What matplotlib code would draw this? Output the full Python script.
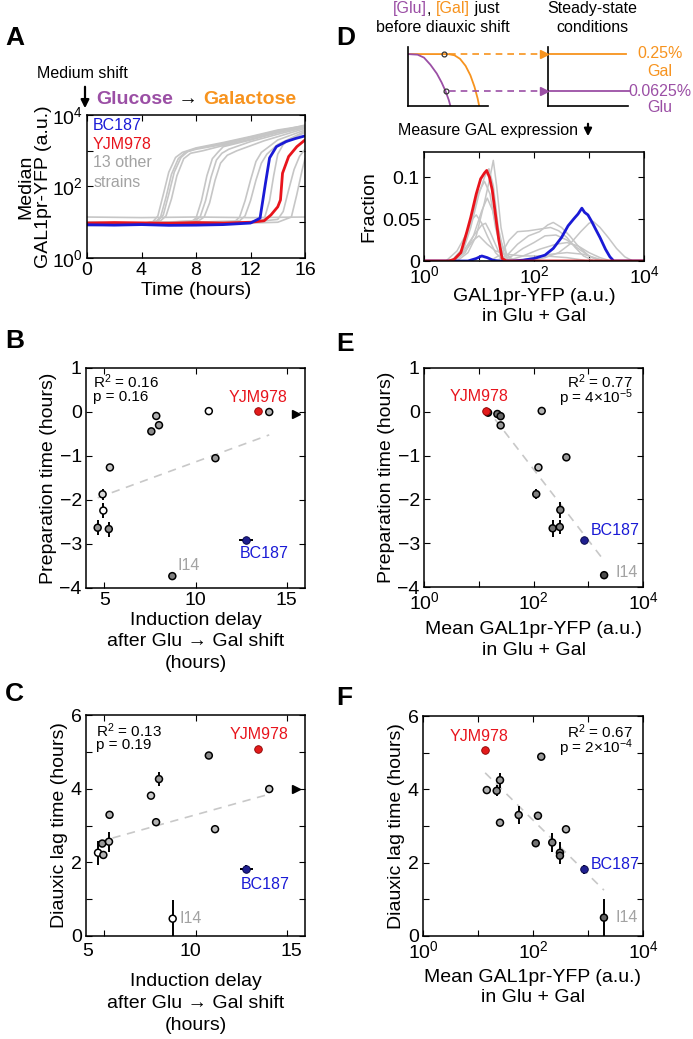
import numpy as np
import matplotlib
matplotlib.use('Agg')
import matplotlib.pyplot as plt
from matplotlib.ticker import NullLocator

plt.rcParams['font.family'] = ['Liberation Sans', 'DejaVu Sans']
plt.rcParams['mathtext.fontset'] = 'custom'
plt.rcParams['mathtext.rm'] = 'Liberation Sans'
plt.rcParams['mathtext.it'] = 'Liberation Sans:italic'
plt.rcParams['mathtext.bf'] = 'Liberation Sans:bold'

W, H = 693, 1039
PURPLE = '#9b4fa5'
ORANGE = '#f7931e'
BLUE = '#1a1ad6'
RED = '#e8141c'
GREY = '#c6c6c6'
LABEL_GREY = '#a3a3a3'
DOT_BLUE = '#1f1f8f'
DOT_RED = '#e21b1b'

# ---- panel A: median GAL1pr-YFP vs time after glucose -> galactose shift
bc187_t = [0, 2, 4, 6, 8, 10, 12, 12.7, 12.9, 13.1, 13.4, 13.9, 14.6, 15.3, 16]
bc187_y = [8.5, 8.3, 8.6, 8.2, 8.3, 8.6, 9.5, 13, 40, 124, 630, 1300, 1800, 2200, 2600]
yjm978_t = [0, 2, 4, 6, 8, 10, 12, 13, 13.5, 14.0, 14.2, 14.35, 14.8, 15.4, 16]
yjm978_y = [9.5, 9.8, 9.6, 9.4, 9.8, 9.5, 10, 11, 16, 27, 42, 235, 690, 1300, 2000]
other_t = [
    [0, 2, 4, 4.8, 5.2, 5.6, 6.0, 6.5, 7.0, 8, 10, 12, 14, 16],
    [0, 2, 4, 5.0, 5.4, 5.8, 6.2, 6.7, 7.2, 8, 10, 12, 14, 16],
    [0, 2, 4, 5.2, 5.6, 6.0, 6.4, 6.9, 7.4, 8, 10, 12, 14, 16],
    [0, 2, 4, 5.4, 5.8, 6.2, 6.6, 7.1, 7.6, 8.5, 10, 12, 14, 16],
    [0, 4, 7.6, 8.0, 8.4, 8.8, 9.2, 9.6, 10, 12, 14, 16],
    [0, 4, 7.9, 8.3, 8.7, 9.1, 9.5, 9.9, 10.4, 12, 14, 16],
    [0, 4, 8.2, 8.6, 9.0, 9.4, 9.8, 10.3, 11, 13, 16],
    [0, 4, 8, 10.8, 11.2, 11.6, 12.0, 12.4, 12.8, 14, 16],
    [0, 4, 8, 11.2, 11.6, 12.0, 12.4, 12.8, 13.2, 14, 16],
    [0, 4, 8, 12, 13.0, 13.4, 13.7, 14.0, 14.4, 15, 16],
    [0, 4, 8, 12, 14, 14.4, 14.8, 15.2, 15.6, 16],
    [0, 4, 8, 12, 14, 15, 15.4, 15.8, 16],
    [0, 4, 8, 12, 16],
]
other_y = [
    [9, 8.5, 9, 10, 15, 60, 250, 650, 900, 1200, 1700, 2500, 3800, 5000],
    [10, 9, 9.5, 10, 14, 50, 220, 600, 900, 1150, 1600, 2400, 3600, 4800],
    [9, 9.5, 9, 11, 16, 60, 250, 650, 950, 1100, 1500, 2300, 3500, 5200],
    [8, 8.5, 9, 11, 15, 45, 200, 600, 850, 1000, 1400, 2100, 3300, 4600],
    [9, 9.5, 10, 13, 40, 200, 600, 900, 1300, 2000, 3200, 5000],
    [10, 9, 11, 14, 40, 180, 550, 850, 1100, 1800, 2900, 4500],
    [9, 9.5, 11, 14, 35, 150, 450, 750, 1000, 1900, 4200],
    [9, 9, 9.5, 10, 14, 40, 150, 500, 900, 2000, 3800],
    [10, 9.5, 10, 11, 15, 40, 150, 450, 800, 1500, 3500],
    [9, 9.5, 9, 10, 12, 40, 200, 800, 1500, 2200, 3200],
    [9, 9, 9.5, 10, 12, 20, 80, 300, 700, 1100],
    [10, 9, 9.5, 9.5, 10, 14, 60, 300, 600],
    [14, 13.5, 14, 13.5, 14],
]

# ---- panel D: histograms of GAL1pr-YFP in Glu + Gal (x in log10 units)
hist_red_lx = [0, 0.45, 0.55, 0.67, 0.78, 0.85, 0.95, 1.03, 1.1, 1.14, 1.19, 1.24, 1.3, 1.36, 1.42, 1.5, 4]
hist_red_y = [0, 0, 0.002, 0.01, 0.035, 0.052, 0.08, 0.098, 0.105, 0.108, 0.1, 0.085, 0.055, 0.025, 0.003, 0, 0]
hist_blue_lx = [0, 0.8, 0.95, 1.05, 1.15, 1.25, 1.35, 1.6, 1.8, 2.0, 2.2, 2.35, 2.5, 2.62, 2.72, 2.8,
                2.87, 2.92, 2.98, 3.05, 3.12, 3.2, 3.3, 3.38, 3.45, 4]
hist_blue_y = [0, 0, 0.003, 0.006, 0.004, 0.001, 0, 0, 0.001, 0.003, 0.007, 0.015, 0.028, 0.042, 0.05, 0.056,
               0.063, 0.058, 0.055, 0.047, 0.038, 0.028, 0.014, 0.005, 0, 0]
hist_other_lx = [
    [0, 0.6, 0.8, 0.95, 1.1, 1.2, 1.26, 1.32, 1.4, 1.5, 1.6, 4],
    [0, 0.5, 0.7, 0.85, 1.0, 1.1, 1.18, 1.26, 1.35, 1.45, 1.55, 4],
    [0, 0.5, 0.7, 0.85, 0.98, 1.1, 1.2, 1.3, 1.42, 1.55, 4],
    [0, 0.55, 0.75, 0.9, 1.05, 1.15, 1.25, 1.35, 1.5, 1.65, 4],
    [0, 0.4, 0.6, 0.75, 0.88, 0.95, 1.05, 1.15, 1.3, 1.45, 4],
    [0, 0.5, 0.7, 0.9, 1.05, 1.12, 1.2, 1.35, 1.5, 4],
    [0, 0.5, 0.75, 0.9, 1.0, 1.15, 1.3, 1.5, 1.8, 2.2, 2.6, 3.0, 4],
    [0, 1.2, 1.4, 1.55, 1.7, 1.9, 2.1, 2.3, 2.45, 2.6, 2.75, 2.9, 3.1, 4],
    [0, 1.3, 1.5, 1.7, 1.9, 2.1, 2.25, 2.35, 2.5, 2.65, 2.8, 3.0, 3.2, 4],
    [0, 1.4, 1.6, 1.8, 2.0, 2.2, 2.4, 2.6, 2.8, 3.0, 3.2, 4],
    [0, 1.5, 1.8, 2.1, 2.4, 2.6, 2.8, 3.0, 3.2, 3.4, 4],
    [0, 1.9, 2.2, 2.45, 2.65, 2.85, 3.0, 3.08, 3.2, 3.35, 3.5, 3.65, 3.8, 4],
    [0, 1.7, 2.0, 2.3, 2.6, 2.9, 3.1, 3.3, 4],
]
hist_other_y = [
    [0, 0, 0.01, 0.03, 0.07, 0.1, 0.12, 0.09, 0.04, 0.008, 0, 0],
    [0, 0, 0.01, 0.04, 0.08, 0.1, 0.11, 0.09, 0.04, 0.01, 0, 0],
    [0, 0, 0.015, 0.045, 0.08, 0.095, 0.08, 0.04, 0.01, 0, 0],
    [0, 0, 0.01, 0.03, 0.06, 0.075, 0.06, 0.03, 0.008, 0, 0],
    [0, 0, 0.012, 0.03, 0.05, 0.055, 0.045, 0.03, 0.01, 0, 0],
    [0, 0, 0.01, 0.03, 0.043, 0.045, 0.035, 0.012, 0, 0],
    [0, 0, 0.012, 0.025, 0.03, 0.02, 0.012, 0.008, 0.006, 0.006, 0.004, 0, 0],
    [0, 0, 0.008, 0.025, 0.035, 0.036, 0.038, 0.04, 0.036, 0.028, 0.016, 0.006, 0, 0],
    [0, 0, 0.006, 0.02, 0.03, 0.035, 0.043, 0.046, 0.04, 0.03, 0.018, 0.006, 0, 0],
    [0, 0, 0.006, 0.015, 0.022, 0.03, 0.031, 0.025, 0.015, 0.006, 0, 0],
    [0, 0, 0.006, 0.014, 0.02, 0.022, 0.018, 0.01, 0.004, 0, 0],
    [0, 0, 0.004, 0.01, 0.02, 0.035, 0.045, 0.047, 0.04, 0.028, 0.015, 0.005, 0, 0],
    [0, 0, 0.004, 0.008, 0.01, 0.008, 0.004, 0, 0],
]

# schematic sugar depletion curves (panel D, arbitrary units)
sch_gal_x = [0, 0.5, 0.58, 0.65, 0.72, 0.78, 0.83, 0.87, 0.89]
sch_gal_y = [0.88, 0.88, 0.86, 0.8, 0.68, 0.52, 0.33, 0.13, 0.0]
sch_glu_x = [0, 0.12, 0.2, 0.28, 0.36, 0.42, 0.47, 0.51, 0.53]
sch_glu_y = [0.88, 0.87, 0.82, 0.7, 0.55, 0.4, 0.25, 0.1, 0.0]
sch_pick_x = [0.45, 0.47]
sch_pick_y = [0.88, 0.25]

# ---- panels B / C: vs induction delay (hours)
b_x = [10.73, 14.04, 7.85, 8.0, 7.58, 5.31, 11.09, 4.91, 4.95, 4.64, 5.25, 8.73]
b_y = [0.02, 0.0, -0.09, -0.3, -0.44, -1.26, -1.05, -1.87, -2.24, -2.63, -2.66, -3.73]
b_yerr = [0, 0, 0, 0, 0, 0, 0, 0.12, 0.17, 0.17, 0.17, 0]
b_fill = ['white', '0.72', '0.7', '0.62', '0.55', '0.78', '0.6', '0.85', 'white', '0.6', '0.55', '0.5']
b_red = (13.4, 0.02)
b_blue = (12.76, -2.92)
b_blue_xerr = 0.38
b_offscale = (15.5, -0.05)
b_fit_x = [4.64, 14.04]
b_fit_y = [-1.95, -0.52]

c_x = [4.66, 4.89, 4.95, 5.26, 5.29, 7.56, 7.84, 8.0, 8.75, 10.73, 11.07, 14.04]
c_y = [2.26, 2.51, 2.2, 2.56, 3.29, 3.81, 3.09, 4.26, 0.47, 4.9, 2.9, 3.99]
c_yerr = [0.33, 0.1, 0.12, 0.27, 0, 0, 0, 0.2, 0.5, 0, 0, 0]
c_fill = ['white', '0.6', '0.7', '0.75', '0.7', '0.8', '0.7', '0.6', 'white', '0.55', '0.75', '0.8']
c_red = (13.44, 5.09)
c_blue = (12.79, 1.82)
c_blue_xerr = 0.36
c_blue_yerr = 0.1
c_offscale = (15.5, 3.99)
c_fit_x = [4.66, 14.04]
c_fit_y = [2.55, 3.85]

# ---- panels E / F: vs mean GAL1pr-YFP in Glu + Gal (log10 a.u.)
e_lx = [1.17, 1.34, 1.40, 1.40, 2.15, 2.60, 2.09, 2.05, 2.49, 2.35, 2.48, 3.29]
e_y = [-0.02, -0.05, -0.1, -0.31, 0.02, -1.04, -1.27, -1.88, -2.24, -2.66, -2.63, -3.73]
e_yerr = [0, 0, 0, 0, 0, 0, 0, 0.12, 0.19, 0.19, 0.15, 0]
e_fill = ['0.25', '0.45', '0.4', '0.6', '0.7', '0.6', '0.75', '0.5', '0.5', '0.45', '0.5', '0.3']
e_red = (1.13, 0.02)
e_blue = (2.93, -2.92)
e_fit_lx = [1.13, 3.29]
e_fit_y = [0.1, -3.4]

f_lx = [1.16, 1.34, 1.40, 1.40, 2.15, 1.74, 2.09, 2.05, 2.35, 2.49, 2.49, 2.60, 3.29]
f_y = [3.98, 3.96, 4.25, 3.09, 4.89, 3.3, 3.28, 2.53, 2.55, 2.27, 2.19, 2.91, 0.5]
f_yerr = [0, 0.15, 0.2, 0, 0, 0.25, 0, 0, 0.25, 0.3, 0, 0, 0.5]
f_fill = ['0.7', '0.55', '0.6', '0.65', '0.6', '0.6', '0.6', '0.45', '0.5', '0.5', '0.45', '0.7', '0.4']
f_red = (1.13, 5.07)
f_blue = (2.93, 1.82)
f_blue_yerr = 0.12
f_fit_lx = [1.13, 3.29]
f_fit_y = [4.45, 1.25]

fig = plt.figure(figsize=(W / 100, H / 100), dpi=100)


def px_axes(l, t, r, b):
    return fig.add_axes([l / W, 1 - b / H, (r - l) / W, (b - t) / H])


def matlab_look(ax):
    ax.tick_params(direction='in', top=True, right=True, length=4, width=0.8,
                   labelsize=14, pad=3)
    for s in ax.spines.values():
        s.set_linewidth(1.1)


def log_decades(ax, which):
    ticks = [1, 10, 100, 1000, 10000]
    labels = ['$10^0$', '', '$10^2$', '', '$10^4$']
    if which == 'x':
        ax.set_xscale('log')
        ax.set_xticks(ticks)
        ax.set_xticklabels(labels)
        ax.xaxis.set_minor_locator(NullLocator())
    else:
        ax.set_yscale('log')
        ax.set_yticks(ticks)
        ax.set_yticklabels(labels)
        ax.yaxis.set_minor_locator(NullLocator())


def scatter_panel(ax, x, y, yerr, fill, red, blue, fit_x, fit_y, xerr_blue=0, yerr_blue=0):
    ax.plot(fit_x, fit_y, ls=(0, (5, 4)), color='#c8c8c8', lw=1.2, zorder=1)
    ax.errorbar(x, y, yerr=yerr, fmt='none', ecolor='k', elinewidth=1.4, zorder=2)
    ax.scatter(x, y, s=25, c=fill, edgecolors='k', linewidths=1.1, zorder=3)
    ax.errorbar([blue[0]], [blue[1]], xerr=[xerr_blue], yerr=[yerr_blue], fmt='none',
                ecolor='k', elinewidth=1.4, zorder=2)
    ax.scatter([red[0]], [red[1]], s=30, c=DOT_RED, edgecolors='#8a0000', linewidths=0.6, zorder=4)
    ax.scatter([blue[0]], [blue[1]], s=30, c=DOT_BLUE, edgecolors='#000040', linewidths=0.6, zorder=4)


# ---------------- A ----------------
axA = px_axes(87, 115, 305, 258)
for t, y in zip(other_t, other_y):
    axA.plot(t, y, color=GREY, lw=1.2)
axA.plot(yjm978_t, yjm978_y, color=RED, lw=2)
axA.plot(bc187_t, bc187_y, color=BLUE, lw=2)
log_decades(axA, 'y')
axA.set_ylim(1, 10000)
axA.set_xlim(0, 16)
axA.set_xticks([0, 4, 8, 12, 16])
matlab_look(axA)
axA.set_xlabel('Time (hours)', fontsize=14, labelpad=2)
axA.set_ylabel('Median\nGAL1pr-YFP (a.u.)', fontsize=14, linespacing=1.05)
axA.yaxis.set_label_coords(-0.16, 0.5)
for txt, col, yy in [('BC187', BLUE, 0.93), ('YJM978', RED, 0.797),
                     ('13 other', LABEL_GREY, 0.671), ('strains', LABEL_GREY, 0.531)]:
    axA.text(0.028, yy, txt, color=col, fontsize=11.5, transform=axA.transAxes, va='center')

# ---------------- D histogram ----------------
axD = px_axes(424, 152, 644, 261)
for lx, y in zip(hist_other_lx, hist_other_y):
    axD.plot(np.power(10.0, lx), y, color=GREY, lw=1.1)
axD.plot(np.power(10.0, hist_blue_lx), hist_blue_y, color=BLUE, lw=2)
axD.plot(np.power(10.0, hist_red_lx), hist_red_y, color=RED, lw=2)
log_decades(axD, 'x')
axD.set_xlim(1, 10000)
axD.set_ylim(0, 0.13)
axD.set_yticks([0, 0.05, 0.1])
axD.set_yticklabels(['0', '0.05', '0.1'])
matlab_look(axD)
axD.set_ylabel('Fraction', fontsize=14, labelpad=3)
axD.set_xlabel('GAL1pr-YFP (a.u.)\nin Glu + Gal', fontsize=14, linespacing=1.2, labelpad=1)

# schematic axes
axS1 = px_axes(408, 47, 488, 106)
axS1.plot(sch_gal_x, sch_gal_y, color=ORANGE, lw=1.3)
axS1.plot(sch_glu_x, sch_glu_y, color=PURPLE, lw=1.3)
axS1.plot(sch_pick_x, sch_pick_y, 'o', mfc='none', mec='#333333', ms=3.5, mew=0.9)
axS2 = px_axes(548, 47, 628, 106)
axS2.plot([0, 0.975], [sch_pick_y[0]] * 2, color=ORANGE, lw=1.3)
axS2.plot([0, 1.02], [sch_pick_y[1]] * 2, color=PURPLE, lw=1.3, clip_on=False)
for a in (axS1, axS2):
    a.set_xlim(0, 1)
    a.set_ylim(0, 1)
    a.set_xticks([])
    a.set_yticks([])
    a.spines['top'].set_visible(False)
    a.spines['right'].set_visible(False)
    a.spines['left'].set_linewidth(1.2)
    a.spines['bottom'].set_linewidth(1.2)

# ---------------- B ----------------
axB = px_axes(86, 368, 305, 588)
scatter_panel(axB, b_x, b_y, b_yerr, b_fill, b_red, b_blue, b_fit_x, b_fit_y, xerr_blue=b_blue_xerr)
axB.plot(*b_offscale, marker='>', color='k', ms=5.5, clip_on=False, zorder=5)
axB.set_xlim(4, 16)
axB.set_ylim(-4, 1)
axB.set_xticks([5, 10, 15])
axB.set_yticks([-4, -3, -2, -1, 0, 1])
matlab_look(axB)
axB.set_ylabel('Preparation time (hours)', fontsize=14, labelpad=2)
axB.set_xlabel('Induction delay\nafter Glu \u2192 Gal shift\n(hours)', fontsize=14,
               linespacing=1.35, labelpad=2)
axB.text(0.03, 0.936, 'R$^2$ = 0.16', transform=axB.transAxes, fontsize=11, va='center')
axB.text(0.03, 0.866, 'p = 0.16', transform=axB.transAxes, fontsize=11, va='center')
axB.text(13.44, 0.34, 'YJM978', color=RED, fontsize=11.5, ha='center', va='center')
axB.text(13.77, -3.21, 'BC187', color=BLUE, fontsize=11.5, ha='center', va='center')
axB.text(9.62, -3.49, 'I14', color=LABEL_GREY, fontsize=11.5, ha='center', va='center')

# ---------------- C ----------------
axC = px_axes(86, 715, 305, 936)
scatter_panel(axC, c_x, c_y, c_yerr, c_fill, c_red, c_blue, c_fit_x, c_fit_y,
              xerr_blue=c_blue_xerr, yerr_blue=c_blue_yerr)
axC.plot(*c_offscale, marker='>', color='k', ms=5.5, clip_on=False, zorder=5)
axC.set_xlim(4, 16)
axC.set_ylim(0, 6)
axC.set_xticks([5, 10, 15])
axC.set_xticklabels([])
axC.set_yticks([0, 1, 2, 3, 4, 5, 6])
axC.set_yticklabels(['0', '', '2', '', '4', '', '6'])
matlab_look(axC)
# tick labels sit slightly off the tick marks in the original figure
for v, lab, dx in [(5, '5', -16.7), (10, '10', -5.3), (15, '15', 4.4)]:
    axC.annotate(lab, xy=(v, 0), xycoords=('data', 'axes fraction'), xytext=(dx * 0.72, -5),
                 textcoords='offset points', ha='center', va='top', fontsize=14)
axC.set_ylabel('Diauxic lag time (hours)', fontsize=14, labelpad=2)
axC.set_xlabel('Induction delay\nafter Glu \u2192 Gal shift\n(hours)', fontsize=14,
               linespacing=1.35, labelpad=24)
axC.text(0.045, 0.93, 'R$^2$ = 0.13', transform=axC.transAxes, fontsize=11, va='center')
axC.text(0.045, 0.862, 'p = 0.19', transform=axC.transAxes, fontsize=11, va='center')
axC.text(13.49, 5.47, 'YJM978', color=RED, fontsize=11.5, ha='center', va='center')
axC.text(13.82, 1.39, 'BC187', color=BLUE, fontsize=11.5, ha='center', va='center')
axC.text(9.13, 0.48, 'I14', color=LABEL_GREY, fontsize=11.5, ha='left', va='center')

# ---------------- E ----------------
axE = px_axes(424, 368, 643, 587)
scatter_panel(axE, np.power(10.0, e_lx), e_y, e_yerr, e_fill,
              (10 ** e_red[0], e_red[1]), (10 ** e_blue[0], e_blue[1]),
              np.power(10.0, e_fit_lx), e_fit_y)
log_decades(axE, 'x')
axE.set_xlim(1, 10000)
axE.set_ylim(-4, 1)
axE.set_yticks([-4, -3, -2, -1, 0, 1])
matlab_look(axE)
axE.set_ylabel('Preparation time (hours)', fontsize=14, labelpad=2)
axE.set_xlabel('Mean GAL1pr-YFP (a.u.)\nin Glu + Gal', fontsize=14, linespacing=1.25, labelpad=6)
axE.text(0.954, 0.936, 'R$^2$ = 0.77', transform=axE.transAxes, fontsize=11, va='center', ha='right')
axE.text(0.954, 0.862, 'p = 4\u00d710$^{-5}$', transform=axE.transAxes, fontsize=11,
         va='center', ha='right')
axE.text(10 ** 1.01, 0.34, 'YJM978', color=RED, fontsize=11.5, ha='center', va='center')
axE.text(10 ** 3.05, -2.71, 'BC187', color=BLUE, fontsize=11.5, ha='left', va='center')
axE.text(10 ** 3.5, -3.66, 'I14', color=LABEL_GREY, fontsize=11.5, ha='left', va='center')

# ---------------- F ----------------
axF = px_axes(423, 716, 643, 936)
scatter_panel(axF, np.power(10.0, f_lx), f_y, f_yerr, f_fill,
              (10 ** f_red[0], f_red[1]), (10 ** f_blue[0], f_blue[1]),
              np.power(10.0, f_fit_lx), f_fit_y, yerr_blue=f_blue_yerr)
log_decades(axF, 'x')
axF.set_xlim(1, 10000)
axF.set_ylim(0, 6)
axF.set_yticks([0, 1, 2, 3, 4, 5, 6])
axF.set_yticklabels(['0', '', '2', '', '4', '', '6'])
matlab_look(axF)
axF.set_ylabel('Diauxic lag time (hours)', fontsize=14, labelpad=2)
axF.set_xlabel('Mean GAL1pr-YFP (a.u.)\nin Glu + Gal', fontsize=14, linespacing=1.25, labelpad=5)
axF.text(0.954, 0.93, 'R$^2$ = 0.67', transform=axF.transAxes, fontsize=11, va='center', ha='right')
axF.text(0.954, 0.855, 'p = 2\u00d710$^{-4}$', transform=axF.transAxes, fontsize=11,
         va='center', ha='right')
axF.text(10 ** 1.01, 5.43, 'YJM978', color=RED, fontsize=11.5, ha='center', va='center')
axF.text(10 ** 3.05, 1.96, 'BC187', color=BLUE, fontsize=11.5, ha='left', va='center')
axF.text(10 ** 3.5, 0.51, 'I14', color=LABEL_GREY, fontsize=11.5, ha='left', va='center')

# ---------------- overlay: panel letters, annotations ----------------
ov = fig.add_axes([0, 0, 1, 1])
ov.set_xlim(0, W)
ov.set_ylim(H, 0)
ov.axis('off')
ov.patch.set_alpha(0)

for letter, x, y in [('A', 5, 38), ('D', 336, 38), ('B', 5, 341), ('E', 336, 344),
                     ('C', 5, 694), ('F', 336, 698)]:
    ov.text(x, y, letter, fontsize=19, fontweight='bold', ha='left', va='center')

# A header
ov.text(82, 73, 'Medium shift', fontsize=11.5, ha='center', va='center')
ov.annotate('', xy=(85, 111), xytext=(85, 84),
            arrowprops=dict(arrowstyle='-|>', color='k', lw=1.6, mutation_scale=12))
t1 = ov.text(96, 100, 'Glucose', color=PURPLE, fontsize=14, fontweight='bold', va='center')
t2 = ov.annotate(' \u2192 ', xy=(1, 0), xycoords=t1, va='bottom', fontsize=14, color='k')
ov.annotate('Galactose', xy=(1, 0), xycoords=t2, va='bottom', fontsize=14,
            fontweight='bold', color=ORANGE)

# D header
p1 = ov.text(393, 9, '[Glu]', color=PURPLE, fontsize=11.5, va='center')
p2 = ov.annotate(', ', xy=(1, 0), xycoords=p1, va='bottom', fontsize=11.5)
p3 = ov.annotate('[Gal]', xy=(1, 0), xycoords=p2, va='bottom', fontsize=11.5, color=ORANGE)
ov.annotate(' just', xy=(1, 0), xycoords=p3, va='bottom', fontsize=11.5)
ov.text(443, 27, 'before diauxic shift', fontsize=11.5, ha='center', va='center')
ov.text(592, 9, 'Steady-state', fontsize=11.5, ha='center', va='center')
ov.text(592, 27, 'conditions', fontsize=11.5, ha='center', va='center')
ov.text(660, 53, '0.25%', color=ORANGE, fontsize=11.5, ha='center', va='center')
ov.text(660, 71, 'Gal', color=ORANGE, fontsize=11.5, ha='center', va='center')
ov.text(660, 91, '0.0625%', color=PURPLE, fontsize=11.5, ha='center', va='center')
ov.text(660, 108, 'Glu', color=PURPLE, fontsize=11.5, ha='center', va='center')
for yy, col in [(54, ORANGE), (91, PURPLE)]:
    ov.plot([449, 541], [yy, yy], ls=(0, (4, 3)), color=col, lw=1.2)
    ov.plot(544, yy, marker='>', color=col, ms=5.5)
ov.text(488, 130, 'Measure GAL expression', fontsize=11.5, ha='center', va='center')
ov.annotate('', xy=(588, 139), xytext=(588, 121),
            arrowprops=dict(arrowstyle='-|>', color='k', lw=1.6, mutation_scale=11))

fig.savefig('out.png', dpi=100)
